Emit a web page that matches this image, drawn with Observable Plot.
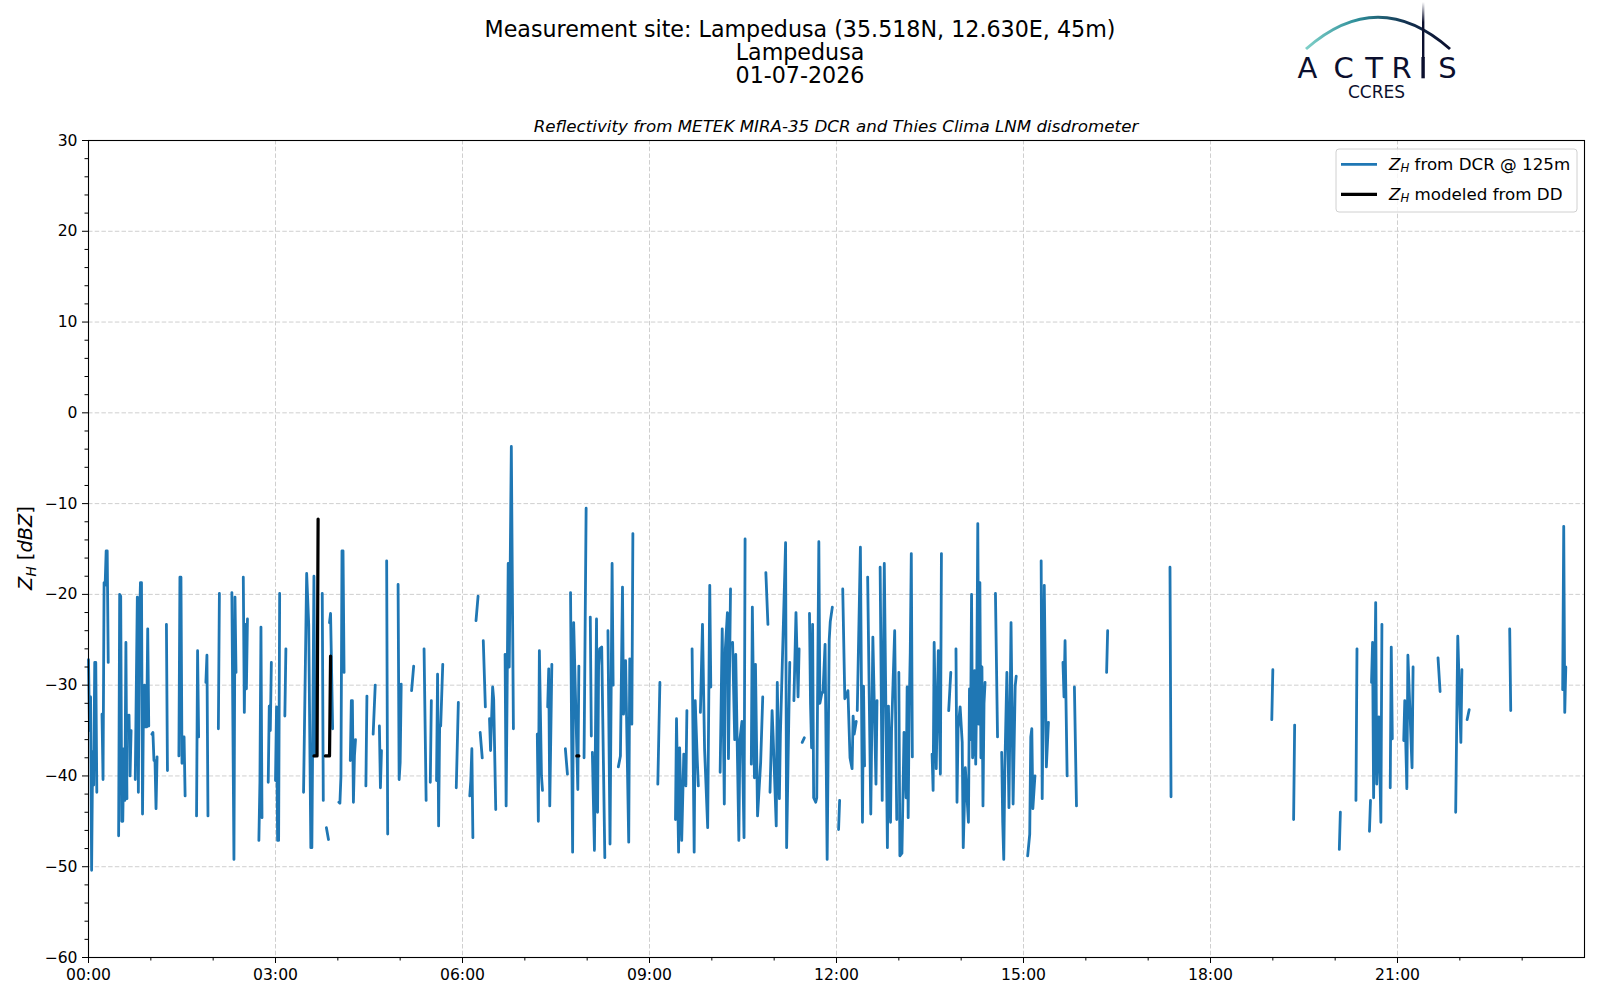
<!DOCTYPE html>
<html>
<head>
<meta charset="utf-8">
<script src="https://cdn.jsdelivr.net/npm/d3@7"></script>
<script src="https://cdn.jsdelivr.net/npm/@observablehq/plot@0.6"></script>
<style>
  html, body { margin: 0; padding: 0; background: white; }
  #wrap { position: relative; width: 1600px; height: 1000px; overflow: hidden; font-family: "DejaVu Sans", sans-serif; }
  #chart { position: absolute; left: 0; top: 0; }
  #overlay { position: absolute; left: 0; top: 0; pointer-events: none; }
</style>
</head>
<body>
<div id="wrap">
  <div id="chart"></div>
  <svg id="overlay" width="1600" height="1000" xmlns="http://www.w3.org/2000/svg"></svg>
</div>
<script>
// ---------- Data (time in minutes after 00:00 UTC, ZH in dBZ) ----------
// DCR reflectivity at 125 m, one list per continuous stretch of data
const dcrSegments = [
  [[0,-27.2],[1,-35],[2,-31.3],[3,-50.4],[4,-37.3],[5,-41],[6,-27.5],[7,-27.5],[8,-41.8]],
  [[13,-33.2],[14,-40.4],[15,-18.7],[16,-19],[17,-15.2],[18,-15.2],[19,-27.5]],
  [[29,-46.6],[30,-20.0],[31,-20.2],[32,-45.0],[33,-45.0],[34,-37],[35,-42.7],[36,-25.3],[37,-42.5]],
  [[39,-33.3],[40,-40],[41,-35]],
  [[45,-40.4],[47,-20.3],[48,-41.8],[49,-23.6],[50,-18.7],[51,-18.7],[52,-44.2],[53,-31],[54,-30],[55,-34.6],[56,-34.6],[57,-23.8],[58,-34.5]],
  [[61,-35.4],[62,-35.2],[63,-38.3],[64,-38.3],[65,-43.6],[66,-37.9]],
  [[75,-23.3],[76,-39.4]],
  [[87,-37.8],[88,-18.1],[89,-18.1],[90,-38.6],[91,-35.7],[92,-35.7],[93,-42.2]],
  [[104,-44.4],[105,-26.2],[106,-35.7]],
  [[113,-29.7],[114,-26.7],[115,-44.4]],
  [[125,-34.8],[126,-19.9]],
  [[138,-19.8],[140,-49.2],[141,-20.3],[142,-28.6]],
  [[149,-18.1],[150,-33],[151,-23.3],[152,-30.4],[153,-22.7]],
  [[164,-47.1],[165,-40.7],[166,-23.6],[167,-44.6]],
  [[173,-40.7],[174,-32.3],[175,-35],[176,-27.5]],
  [[180,-40.5],[181,-32.4],[182,-47.1],[183,-47.1],[184,-19.9]],
  [[189,-33.4],[190,-26]],
  [[207,-41.8],[210,-17.7],[212,-23.4],[214,-47.9],[215,-47.9],[217,-18],[218,-37.8]],
  [[225,-19.9],[226,-42.7]],
  [[229,-45.7],[231,-47]],
  [[232,-23.1],[233,-22.1],[235,-34.8]],
  [[241,-42.9],[242,-43],[243,-40],[244,-15.2],[245,-15.2],[246,-28.6]],
  [[252,-38.3],[253,-31.7],[254,-31.7],[255,-42.9],[256,-37.8],[257,-36]],
  [[267,-41.1],[268,-31.2]],
  [[274,-35.4],[276,-30]],
  [[280,-34.5],[281,-41.3],[282,-37.2]],
  [[287,-16.3],[288,-46.4]],
  [[298,-18.9],[299,-40.4],[300,-38.5],[301,-29.9]],
  [[311,-30.6],[313,-27.9]],
  [[323,-26],[325,-42.7]],
  [[329,-40.7],[330,-31.7]],
  [[335,-40.5],[336,-28.8],[337,-45.5],[338,-34.5],[339,-34.5],[341,-27.7]],
  [[354,-41.3],[356,-31.9]],
  [[367,-42.2],[368,-40.5],[369,-37],[370,-46.8]],
  [[373,-22.9],[375,-20.2]],
  [[377,-35.2],[379,-38]],
  [[380,-25.1],[382,-32.4]],
  [[386,-33.7],[387,-37.2],[389,-30.2],[390,-31.5],[392,-43.7]],
  [[401,-26.6],[402,-43.3],[404,-16.6],[405,-28],[407,-3.7],[409,-34.8]],
  [[432,-35.4],[433,-45],[434,-26.2],[436,-40],[437,-41.6]],
  [[442,-32.4],[443,-28.2],[444,-43.3],[446,-27.7]],
  [[459,-37],[461,-39.8]],
  [[464,-19.8],[465,-35],[466,-48.4],[467,-23.1],[471,-41.5],[472,-27.9]],
  [[477,-38],[479,-10.5]],
  [[483,-22.5],[484,-35.6]],
  [[485,-37.4],[487,-48.2],[489,-22.7],[490,-44],[491,-27.9],[492,-26],[494,-25.8],[497,-49]],
  [[500,-24],[502,-47.5],[504,-16.6],[505,-30]],
  [[510,-39],[512,-37.8],[514,-19.2],[515,-33.2],[517,-27.3],[520,-47.3],[521,-27.1],[523,-34.3],[524,-13.3]],
  [[548,-40.9],[550,-29.7]],
  [[565,-44.8],[566,-33.7],[568,-48.4],[569,-36.9],[571,-47.1],[573,-37.6],[575,-41.1],[576,-32.8]],
  [[581,-26],[583,-48.4],[584,-31.7],[586,-38.3],[587,-41.1]],
  [[589,-33],[591,-23.3],[593,-37],[596,-45.7],[598,-19],[599,-30.2]],
  [[608,-39.6],[610,-23.8],[612,-43.1],[613,-26],[615,-22],[616,-38.1],[618,-19.4]],
  [[620,-25.3],[622,-36],[623,-26.6],[626,-47.1],[627,-36],[629,-34],[631,-46.8],[632,-13.9]],
  [[638,-38.7],[639,-21.4],[641,-40.2],[642,-27.7],[644,-44.4],[647,-38.5],[649,-31.3]],
  [[652,-17.6],[654,-23.3]],
  [[656,-41.8],[658,-32.8],[659,-35.6],[662,-45.5],[663,-29.7],[665,-42.5],[666,-35.4],[671,-14.3],[672,-47.9],[675,-27.5]],
  [[679,-31.7],[681,-22],[683,-31.3],[684,-26]],
  [[687,-36.3],[689,-35.8]],
  [[694,-22.1],[695,-32.1],[696,-36.9],[697,-23.3],[698,-42.4],[700,-42.9],[701,-42.4],[703,-14.2],[704,-32],[706,-30.8],[707,-30.8],[709,-25.5],[711,-49.2],[713,-25],[714,-23],[716,-21.4]],
  [[722,-45.9],[723,-42.7]],
  [[726,-19.4],[728,-31.5],[730,-31],[731,-30.6],[733,-38],[735,-39.2],[736,-33.4],[737,-35.4],[739,-34]],
  [[740,-32.8],[743,-14.8],[745,-45.1],[746,-30.1],[747,-38.9]],
  [[750,-18.1],[753,-44.2],[755,-24.7],[758,-40.9],[759,-31.7]],
  [[762,-17],[764,-42.7],[766,-16.6],[769,-47.9],[770,-32.3],[772,-45.1],[773,-35],[776,-24],[778,-44.8]],
  [[780,-28.6],[781,-48.8],[783,-48.5],[785,-35.2],[787,-42.4],[788,-30.2],[789,-44.6],[790,-32.3],[791,-26.4],[792,-15.5],[793,-37.9]],
  [[812,-37.6],[813,-41.6],[814,-25.3],[816,-39.2],[818,-26.2],[820,-39.8],[821,-15.5]],
  [[828,-32.8],[830,-28.6]],
  [[835,-26],[836,-42.9],[837,-34.8],[839,-32.4],[841,-36.3],[842,-47.9],[844,-39.1],[847,-45.1],[848,-30.4],[849,-36],[850,-20],[851,-38],[852,-36.5],[853,-28.4],[854,-38.7],[855,-30],[856,-12.2],[857,-34.3],[858,-18.7],[859,-38],[860,-28],[861,-43.3],[862,-32],[863,-29.7]],
  [[873,-19.9],[875,-35.7]],
  [[879,-37.4],[880,-45.1],[881,-49.2],[882,-39.4],[884,-28.6],[886,-43.5],[888,-23.1],[890,-43.1],[892,-30.1],[893,-29]],
  [[904,-48.8],[906,-46.4],[907,-35.7],[908,-34.8],[909,-43.6],[911,-40]],
  [[917,-16.3],[918,-42.5],[920,-19],[922,-39],[924,-34.1]],
  [[938,-27.5],[939,-31.3],[940,-25.1],[942,-40]],
  [[949,-30.2],[951,-43.3]],
  [[980,-28.6],[981,-24]],
  [[1041,-17],[1042,-42.3]],
  [[1139,-33.8],[1140,-28.3]],
  [[1160,-44.8],[1161,-34.4]],
  [[1204,-48.1],[1205,-44]],
  [[1220,-42.7],[1221,-26]],
  [[1233,-46.1],[1234,-42.7]],
  [[1235,-29.7],[1236,-25.3],[1237,-42.4],[1239,-20.9],[1240,-40.9],[1242,-33.5],[1244,-45.1],[1245,-23.3]],
  [[1253,-41.3],[1254,-25.8],[1255,-35.9]],
  [[1266,-36.1],[1267,-31.7],[1269,-41.4],[1270,-26.7],[1274,-39.1],[1275,-28]],
  [[1299,-27],[1301,-30.7]],
  [[1316,-44],[1318,-24.6],[1321,-36.3],[1322,-28.3]],
  [[1327,-33.8],[1329,-32.7]],
  [[1368,-23.8],[1369,-32.8]],
  [[1419,-30.5],[1420,-12.5],[1421,-33],[1422,-28]]
];
// ZH modeled from the disdrometer
const ddSegments = [
  [[217,-37.8],[220,-37.8],[221,-11.7]],
  [[228,-37.8],[232,-37.8],[233,-26.8]],
  [[470,-37.8],[472,-37.8]]
];
const majorTicksX = [0, 180, 360, 540, 720, 900, 1080, 1260];
const minorTicksX = [60,120,240,300,420,480,600,660,780,840,960,1020,1140,1200,1320,1380];
const majorTicksY = [-60, -50, -40, -30, -20, -10, 0, 10, 20, 30];
const minorTicksY = [-58,-56,-54,-52,-48,-46,-44,-42,-38,-36,-34,-32,-28,-26,-24,-22,-18,-16,-14,-12,-8,-6,-4,-2,2,4,6,8,12,14,16,18,22,24,26,28];
const titleLines = ["Measurement site: Lampedusa (35.518N, 12.630E, 45m)", "Lampedusa", "01-07-2026"];
const subtitle = "Reflectivity from METEK MIRA-35 DCR and Thies Clima LNM disdrometer";
const legendLabels = [" from DCR @ 125m", " modeled from DD"];

// Flatten segments into rows with null breaks between stretches
function toRows(segs) {
  const rows = [];
  segs.forEach((s, i) => {
    if (i > 0) rows.push({t: (s[0][0] + segs[i-1][segs[i-1].length-1][0]) / 2, z: null});
    s.forEach(([t, z]) => rows.push({t, z}));
  });
  return rows;
}
const dcrRows = toRows(dcrSegments);
const ddRows = toRows(ddSegments);

const fmtTime = m => String(Math.floor(m / 60)).padStart(2, "0") + ":" + String(m % 60).padStart(2, "0");
const fmtNum = d => d < 0 ? "\u2212" + Math.abs(d) : String(d);
const grid = {stroke: "#cfcfcf", strokeOpacity: 1, strokeWidth: 1, strokeDasharray: "4.5,2.2"};

const chart = Plot.plot({
  width: 1600,
  height: 1000,
  marginTop: 140,
  marginBottom: 43,
  marginLeft: 88,
  marginRight: 16,
  style: {fontFamily: "DejaVu Sans", fontSize: "15.6px", color: "black", background: "white", overflow: "visible"},
  x: {domain: [0, 1440]},
  y: {domain: [-60, 30]},
  marks: [
    Plot.gridX(majorTicksX, grid),
    Plot.gridY(majorTicksY, grid),
    Plot.line(dcrRows, {x: "t", y: "z", stroke: "#1f77b4", strokeWidth: 2.8}),
    Plot.line(ddRows, {x: "t", y: "z", stroke: "black", strokeWidth: 3.2}),
    Plot.axisX(majorTicksX, {tickSize: 6, tickPadding: 5, tickFormat: fmtTime, label: null, fontSize: "15.6px", strokeWidth: 1}),
    Plot.axisX(minorTicksX, {tickSize: 3.5, tickFormat: () => "", label: null, strokeWidth: 1}),
    Plot.axisY(majorTicksY, {tickSize: 6, tickPadding: 5, tickFormat: fmtNum, label: null, fontSize: "15.6px", strokeWidth: 1}),
    Plot.axisY(minorTicksY, {tickSize: 3.5, tickFormat: () => "", label: null, strokeWidth: 1}),
    Plot.frame({stroke: "black", strokeWidth: 1.1})
  ]
});
document.getElementById("chart").appendChild(chart);

// ---------- Overlay: titles, logo, axis label, legend ----------
const ov = d3.select("#overlay");
ov.append("defs").html(`
  <linearGradient id="arcGrad" x1="1306" y1="0" x2="1450" y2="0" gradientUnits="userSpaceOnUse">
    <stop offset="0" stop-color="#7fd0c8"/>
    <stop offset="0.35" stop-color="#2f8f9a"/>
    <stop offset="0.7" stop-color="#12304f"/>
    <stop offset="1" stop-color="#0b0f2e"/>
  </linearGradient>
  <linearGradient id="barGrad" x1="0" y1="2" x2="0" y2="60" gradientUnits="userSpaceOnUse">
    <stop offset="0" stop-color="#ffffff"/>
    <stop offset="0.35" stop-color="#0b0f2e"/>
    <stop offset="1" stop-color="#0b0f2e"/>
  </linearGradient>`);

const titleY = [28.5, 51.5, 75];
titleLines.forEach((s, i) => {
  ov.append("text").attr("x", 800).attr("y", titleY[i]).attr("text-anchor", "middle")
    .attr("dominant-baseline", "central").attr("font-family", "DejaVu Sans").attr("font-size", 22.2)
    .attr("fill", "black").text(s);
});
ov.append("text").attr("x", 836).attr("y", 125.5).attr("text-anchor", "middle")
  .attr("dominant-baseline", "central").attr("font-family", "DejaVu Sans").attr("font-style", "italic")
  .attr("font-size", 16.7).attr("fill", "black").text(subtitle);

// logo
const logo = ov.append("g");
logo.append("path").attr("d", "M1306,49 Q1378,-14.5 1450,49").attr("fill", "none")
  .attr("stroke", "url(#arcGrad)").attr("stroke-width", 3);
logo.append("rect").attr("x", 1422).attr("y", 2).attr("width", 2.4).attr("height", 56).attr("fill", "url(#barGrad)");
logo.append("rect").attr("x", 1421.4).attr("y", 57).attr("width", 3.4).attr("height", 21.3).attr("fill", "#0b0f2e");
const letters = [["A", 1307.5], ["C", 1343.5], ["T", 1374], ["R", 1401.5], ["S", 1447.5]];
letters.forEach(([c, x]) => {
  logo.append("text").attr("x", x).attr("y", 78.3).attr("text-anchor", "middle")
    .attr("font-family", "DejaVu Sans").attr("font-size", 29).attr("fill", "#0b0f2e").text(c);
});
logo.append("text").attr("x", 1376.5).attr("y", 98).attr("text-anchor", "middle")
  .attr("font-family", "DejaVu Sans").attr("font-size", 17).attr("fill", "#0b0f2e").text("CCRES");

// y axis label
const yl = ov.append("text").attr("transform", "translate(32,548) rotate(-90)").attr("text-anchor", "middle")
  .attr("font-family", "DejaVu Sans").attr("font-size", 19.4).attr("fill", "black");
yl.append("tspan").attr("font-style", "italic").text("Z");
yl.append("tspan").attr("font-style", "italic").attr("font-size", 13.6).attr("dy", 4).text("H");
yl.append("tspan").attr("dy", -4).text(" [");
yl.append("tspan").attr("font-style", "italic").text("dBZ");
yl.append("tspan").text("]");

// legend
const lg = ov.append("g");
lg.append("rect").attr("x", 1336).attr("y", 149).attr("width", 241).attr("height", 63).attr("rx", 3)
  .attr("fill", "white").attr("fill-opacity", 0.8).attr("stroke", "#d0d0d0").attr("stroke-width", 1);
const legColors = ["#1f77b4", "black"];
const legY = [164.3, 194.3];
legendLabels.forEach((s, i) => {
  lg.append("line").attr("x1", 1341).attr("x2", 1377).attr("y1", legY[i]).attr("y2", legY[i])
    .attr("stroke", legColors[i]).attr("stroke-width", i ? 3.2 : 2.8);
  const t = lg.append("text").attr("x", 1389).attr("y", legY[i]).attr("dominant-baseline", "central")
    .attr("font-family", "DejaVu Sans").attr("font-size", 16.7).attr("fill", "black");
  t.append("tspan").attr("font-style", "italic").text("Z");
  t.append("tspan").attr("font-style", "italic").attr("font-size", 11.7).attr("dy", 3.5).text("H");
  t.append("tspan").attr("dy", -3.5).text(s);
});
</script>
</body>
</html>
